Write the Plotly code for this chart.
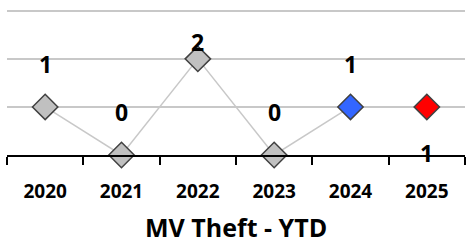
import plotly.graph_objects as go

years = ["2020", "2021", "2022", "2023", "2024", "2025"]
values = [1, 0, 2, 0, 1, 1]
labels = ["1", "0", "2", "0", "1", "1"]
marker_colors = ["#C0C0C0", "#C0C0C0", "#C0C0C0", "#C0C0C0", "#3366FF", "#FF0000"]
label_shifts = [43, 43, 17, 43, 43, -46]
title_text = "MV Theft - YTD"

FONT = "Open Sans"

fig = go.Figure()
fig.add_trace(go.Scatter(
    x=years[:5], y=values[:5], mode="lines",
    line=dict(color="#C8C8C8", width=1.5),
    hoverinfo="skip", showlegend=False,
))
fig.add_trace(go.Scatter(
    x=years, y=values, mode="markers",
    marker=dict(symbol="diamond", size=19.5, color=marker_colors,
                line=dict(color="#404040", width=1.5)),
    showlegend=False, cliponaxis=False,
))

for i, (y, t, s) in enumerate(zip(values, labels, label_shifts)):
    fig.add_annotation(x=i, y=y, xref="x", yref="y", text=f"<b>{t}</b>",
                       showarrow=False, yshift=s,
                       font=dict(family=FONT, size=23, color="#000000"))

fig.add_annotation(x=0.5, y=0, xref="paper", yref="paper", yanchor="middle",
                   yshift=-72, text=f"<b>{title_text}</b>", showarrow=False,
                   font=dict(family=FONT, size=25, color="#000000"))

fig.update_layout(
    width=472, height=243,
    margin=dict(l=7, r=7, t=6, b=88),
    paper_bgcolor="white", plot_bgcolor="white",
    font=dict(family=FONT, color="#000000"),
    xaxis=dict(type="category", tickson="boundaries", ticks="outside",
               ticklen=8, tickwidth=2, tickcolor="#000000",
               showline=True, linecolor="#000000", linewidth=2,
               showgrid=False, tickfont=dict(family=FONT, size=19, color="#000000"),
               tickprefix="<b>", ticksuffix="</b>", range=[-0.5, 5.5],
               ticklabelstandoff=18),
    yaxis=dict(range=[0, 3.1], tickvals=[1, 2, 3], showticklabels=False, ticks="",
               showgrid=True, gridcolor="#C8C8C8", gridwidth=1.5,
               zeroline=False, showline=False),
)

fig.write_html("out.html", config={"displayModeBar": False},
               post_script="document.body.style.margin='0';")
